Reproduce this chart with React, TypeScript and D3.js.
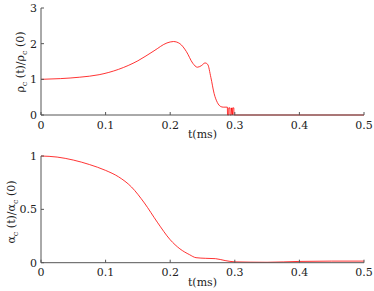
import * as React from 'react';
import {scaleLinear, line, curveMonotoneX, curveLinear} from "d3";

// t in ms
const rhoT = [0, 0.03, 0.06, 0.09, 0.12, 0.15, 0.175, 0.195, 0.205, 0.215, 0.225, 0.235, 0.242, 0.248, 0.254, 0.258, 0.263, 0.268, 0.273, 0.278, 0.282, 0.2885];
const rhoV = [1.0, 1.02, 1.06, 1.13, 1.28, 1.52, 1.8, 2.02, 2.06, 2.0, 1.78, 1.45, 1.34, 1.38, 1.46, 1.42, 1.05, 0.6, 0.35, 0.24, 0.22, 0.22];
const spikeT = [0.2885, 0.2887, 0.2905, 0.2907, 0.2925, 0.2927, 0.2945, 0.2947, 0.2965, 0.2967, 0.2985, 0.2987, 0.3, 0.5];
const spikeV = [0.22, 0, 0, 0.2, 0.2, 0, 0, 0.2, 0, 0.2, 0.2, 0, 0, 0];

const alphaT = [0, 0.025, 0.05, 0.075, 0.1, 0.12, 0.14, 0.16, 0.18, 0.2, 0.215, 0.23, 0.24, 0.255, 0.27, 0.285, 0.3, 0.35, 0.4, 0.45, 0.5];
const alphaV = [1.0, 0.99, 0.962, 0.92, 0.865, 0.805, 0.71, 0.56, 0.38, 0.215, 0.13, 0.075, 0.047, 0.041, 0.038, 0.02, 0.008, 0.004, 0.012, 0.015, 0.015];

const xTicks = [0, 0.1, 0.2, 0.3, 0.4, 0.5];
const rhoTicks = [0, 1, 2, 3];
const alphaTicks = [0, 0.5, 1];

const left = 41, right = 364;
const font = "DejaVu Serif";
const axisColor = '#555';

const xScale = scaleLinear().domain([0, 0.5]).range([left, right]);

type PanelProps = {
    top: number; bottom: number; yMax: number; yTicks: number[];
    series: { t: number[]; v: number[]; smooth: boolean }[];
    sym: string; labelX: number; labelY: number;
};

const Panel = ({top, bottom, yMax, yTicks, series, sym, labelX, labelY}: PanelProps) => {
    const yScale = scaleLinear().domain([0, yMax]).range([bottom, top]);
    return (
        <g fontFamily={font} fill="#222">
            {series.map((s, i) => {
                const path = line<number>()
                    .x((_, j) => xScale(s.t[j]))
                    .y(d => yScale(d))
                    .curve(s.smooth ? curveMonotoneX : curveLinear)(s.v);
                return <path key={i} d={path!} fill="none" stroke="#f00" strokeWidth={0.8} />;
            })}
            <line x1={left} x2={left} y1={top} y2={bottom} stroke={axisColor} />
            <line x1={left} x2={right} y1={bottom} y2={bottom} stroke={axisColor} />
            {xTicks.map(t => (
                <g key={t}>
                    <line x1={xScale(t)} x2={xScale(t)} y1={bottom} y2={bottom - 3} stroke={axisColor} />
                    <text x={xScale(t)} y={bottom + 13.5} textAnchor="middle" fontSize={11}>{t}</text>
                </g>
            ))}
            {yTicks.map(v => (
                <g key={v}>
                    <line x1={left} x2={left + 3} y1={yScale(v)} y2={yScale(v)} stroke={axisColor} />
                    <text x={left - 4} y={yScale(v) + 4} textAnchor="end" fontSize={11}>{v}</text>
                </g>
            ))}
            <text x={(left + right) / 2} y={bottom + 23} textAnchor="middle" fontSize={11}>t(ms)</text>
            <text transform={`translate(${labelX},${labelY}) rotate(-90)`} textAnchor="middle" fontSize={11}>
                {sym}<tspan fontSize={8} dy={3}>c</tspan><tspan dy={-3}> (t)/{sym}</tspan><tspan fontSize={8} dy={3}>c</tspan><tspan dy={-3}> (0)</tspan>
            </text>
        </g>
    );
};

export default function App() {
    return (
        <div style={{position: 'absolute', left: 0, top: 0}}>
            <svg width={374} height={291} style={{display: 'block'}}>
                <rect width={374} height={291} fill="#fff" />
                <Panel top={8} bottom={115} yMax={3} yTicks={rhoTicks}
                       series={[{t: rhoT, v: rhoV, smooth: true}, {t: spikeT, v: spikeV, smooth: false}]}
                       sym="ρ" labelX={24} labelY={62} />
                <Panel top={156} bottom={262.7} yMax={1} yTicks={alphaTicks}
                       series={[{t: alphaT, v: alphaV, smooth: true}]}
                       sym="α" labelX={15} labelY={212} />
            </svg>
        </div>
    );
}
